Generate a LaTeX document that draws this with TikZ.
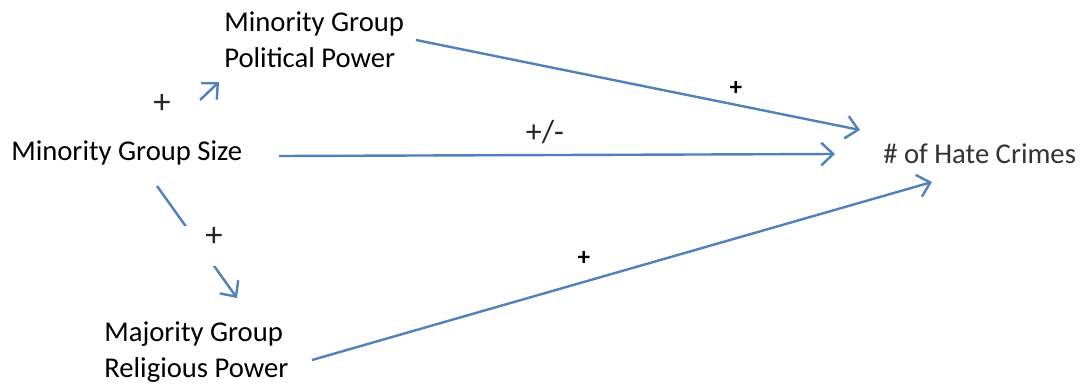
\documentclass[tikz,border=0pt]{standalone}
\usepackage{fontspec}
\setmainfont{Carlito}
\usepackage{xcolor}
\usetikzlibrary{arrows.meta}
\definecolor{arrowblue}{HTML}{4F81BD}

\begin{document}
\begin{tikzpicture}[
  x=0.75pt, y=-0.75pt,
  lbl/.style={inner sep=0pt, align=left, font=\fontsize{21.5}{27}\selectfont},
  sgn/.style={inner sep=1pt, font=\fontsize{26}{28}\selectfont, text=black!85},
  bsgn/.style={inner sep=1pt, font=\fontsize{19}{22}\selectfont\bfseries},
  flow/.style={-{Straight Barb[length=9pt, width=17pt, line width=1.8pt]},
               line width=1.8pt, arrowblue},
]
\useasboundingbox (0,0) rectangle (1089,383);

% --- factors ---
\node[lbl, anchor=west] (pol) at (224,40) {Minority Group\\Political Power};
\node[lbl, anchor=west] (size) at (11,153) {Minority Group Size};
\node[lbl, anchor=west] (rel) at (104,352) {Majority Group\\Religious Power};
\node[lbl, anchor=west, text=black!80] (hate) at (883,154) {\# of Hate Crimes};

% --- arrow ends ---
\coordinate (polout) at (416,40);
\coordinate (polin) at (219,82);
\coordinate (sizeup) at (200,100);
\coordinate (sizeout) at (279,156);
\coordinate (sizedown) at (157,186);
\coordinate (relin) at (237,298);
\coordinate (relout) at (312,360);
\coordinate (hatein1) at (860,130);
\coordinate (hatein2) at (835,154);
\coordinate (hatein3) at (932,182);

% --- links ---
\draw[flow] (sizeup) -- (polin);
\node[sgn] (s1) at (162,104) {+};
\draw[flow] (sizedown) -- node[pos=0.54, fill=white, inner sep=0pt,
  minimum width=40, minimum height=30] (gap) {} (relin);
\node[sgn] (s2) at (214,237) {+};
\draw[flow] (polout) -- (hatein1);
\node[bsgn] (s3) at (736,88) {+};
\draw[flow] (sizeout) -- (hatein2);
\node[sgn, font=\fontsize{24}{26}\selectfont] (s4) at (545,132) {+/-};
\draw[flow] (relout) -- (hatein3);
\node[bsgn] (s5) at (584,258) {+};
\end{tikzpicture}
\end{document}
